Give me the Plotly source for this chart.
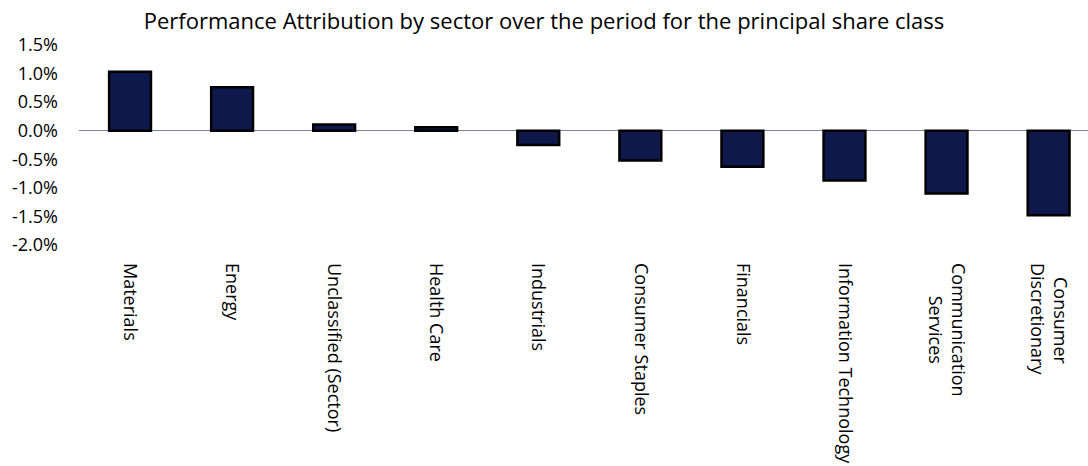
import plotly.graph_objects as go

NBSP = "\u00a0"

# Sector attribution (percentage points)
sectors = [
    "Materials", "Energy", "Unclassified (Sector)", "Health Care", "Industrials",
    "Consumer Staples", "Financials", "Information Technology",
    "Communication<br>" + NBSP * 7 + "Services",
    NBSP * 3 + "Consumer<br>Discretionary",
]
attribution = [1.03, 0.76, 0.11, 0.06, -0.25, -0.52, -0.63, -0.87, -1.10, -1.48]

y_ticks = [1.5, 1.0, 0.5, 0.0, -0.5, -1.0, -1.5, -2.0]
y_tick_text = ["1.5%", "1.0%", "0.5%", "0.0%", "-0.5%", "-1.0%", "-1.5%", "-2.0%"]

fig = go.Figure(
    go.Bar(
        x=sectors,
        y=attribution,
        width=0.41,
        marker=dict(color="#0f184a", line=dict(color="#000000", width=2.5)),
    )
)

fig.update_layout(
    width=1088,
    height=466,
    margin=dict(l=79, r=0, t=45, b=221),
    paper_bgcolor="white",
    plot_bgcolor="white",
    font=dict(family="Open Sans, sans-serif", color="#000000", size=18),
    showlegend=False,
    title=dict(
        text="Performance Attribution by sector over the period for the principal share class",
        x=0.5, xanchor="center", y=0.955, yanchor="middle",
        font=dict(size=22, color="#000000"),
    ),
    xaxis=dict(
        type="category",
        range=[-0.5, 9.386],
        tickangle=90,
        showgrid=False,
        showline=False,
        zeroline=False,
        ticks="",
        ticklabelstandoff=17,
        tickfont=dict(size=18),
    ),
    yaxis=dict(
        range=[-2.0, 1.5],
        tickvals=y_ticks,
        ticktext=y_tick_text,
        showgrid=False,
        showline=False,
        zeroline=True,
        zerolinecolor="#7a82a0",
        zerolinewidth=1.2,
        ticks="",
        ticklabelstandoff=20,
        tickfont=dict(size=18),
    ),
)

fig.write_html("out.html")
